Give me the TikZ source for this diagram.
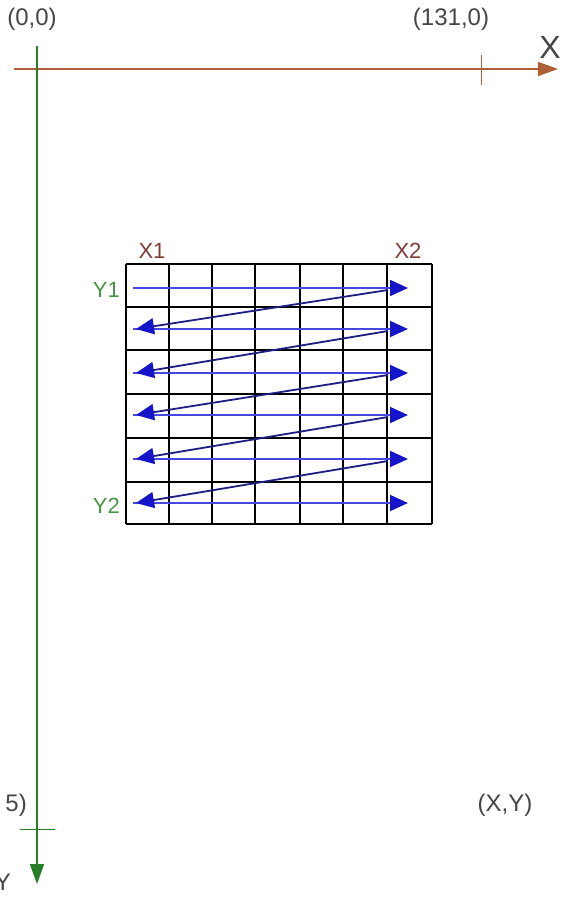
\documentclass[tikz,border=0pt]{standalone}
\usepackage{fontspec}
\setmainfont{Liberation Sans}
\usetikzlibrary{arrows.meta}
\definecolor{axbrown}{RGB}{176,96,56}
\definecolor{axgreen}{RGB}{40,125,40}
\definecolor{lblred}{RGB}{130,60,60}
\definecolor{lblgreen}{RGB}{70,150,70}
\definecolor{txtgray}{RGB}{70,70,70}
\definecolor{arrblue}{RGB}{70,70,225}
\definecolor{diagblue}{RGB}{30,30,130}
\definecolor{tipblue}{RGB}{20,20,200}
\tikzset{
  coordtxt/.style={text=txtgray, font=\fontsize{24}{26}\selectfont, inner sep=0pt},
  xlbl/.style={text=lblred, font=\fontsize{22}{24}\selectfont, inner sep=0pt},
  ylbl/.style={text=lblgreen, font=\fontsize{22}{24}\selectfont, inner sep=0pt},
  gridline/.style={line width=1.6pt, black},
  horarrow/.style={line width=2pt, arrblue, -{Triangle[length=18pt,width=16pt,fill=tipblue,color=tipblue]}},
  diagarrow/.style={line width=1.8pt, diagblue, -{Triangle[length=18pt,width=16pt,fill=tipblue,color=tipblue]}},
}
\begin{document}
\begin{tikzpicture}[x=1pt,y=-1pt]
\useasboundingbox (0,0) rectangle (565,906);
\fill[white] (0,0) rectangle (565,906);
% axes
\coordinate (xs) at (14,69);
\coordinate (xe) at (558,69);
\coordinate (ys) at (37,46);
\coordinate (ye) at (37,884);
\draw[axbrown, line width=1.6pt, -{Triangle[length=20pt,width=14pt]}] (xs) -- (xe);
\coordinate (xt1) at (481,55);
\coordinate (xt2) at (481,85);
\draw[axbrown, line width=1pt] (xt1) -- (xt2);
\draw[axgreen, line width=1.6pt, -{Triangle[length=20pt,width=14pt]}] (ys) -- (ye);
\coordinate (yt1) at (20,829);
\coordinate (yt2) at (55,829);
\draw[axgreen, line width=1pt] (yt1) -- (yt2);
% axis labels
\node[coordtxt] (o) at (32,19) {(0,0)};
\node[coordtxt] (c131) at (451,19) {(131,0)};
\node[text=txtgray, font=\fontsize{32}{34}\selectfont, inner sep=0pt] (xl) at (550,47) {X};
\node[coordtxt, anchor=east] (c5) at (27,805) {5)};
\node[coordtxt] (xy) at (505,805) {(X,Y)};
\node[text=txtgray, font=\fontsize{24}{26}\selectfont, inner sep=0pt, anchor=east] (yl) at (11,882) {Y};
% grid
\foreach \x in {126,169,212,255,300,343,387,432}
  \draw[gridline] (\x,264) -- (\x,524);
\foreach \y in {264,307,350,394,438,482,524}
  \draw[gridline] (126,\y) -- (432,\y);
% labels of grid
\node[xlbl] (x1) at (152,251) {X1};
\node[xlbl] (x2) at (408,251) {X2};
\node[ylbl, anchor=east] (y1) at (120,290) {Y1};
\node[ylbl, anchor=east] (y2) at (120,506) {Y2};
% scan arrows
\foreach \y [count=\i] in {288,329,373,415,459,503}{
  \coordinate (L\i) at (136,\y);
  \coordinate (R\i) at (408,\y);
  \coordinate (S\i) at (133,\y);
  \coordinate (D\i) at (388,\y+2);
}
\foreach \i in {1,...,6}
  \draw[horarrow] (S\i) -- (R\i);
\foreach \i/\j in {1/2,2/3,3/4,4/5,5/6}
  \draw[diagarrow] (D\i) -- (L\j);
\end{tikzpicture}
\end{document}
